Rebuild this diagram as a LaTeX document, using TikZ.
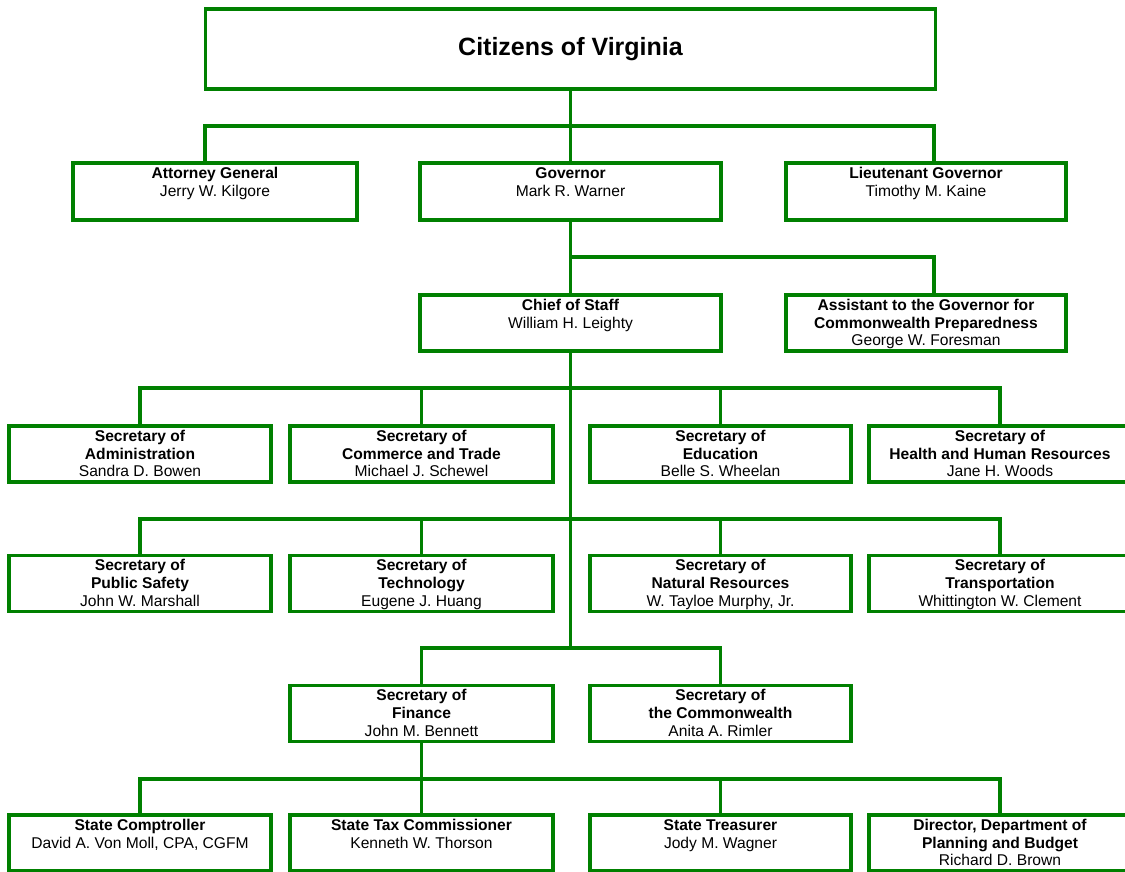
\documentclass[tikz,border=0pt]{standalone}
\usepackage{fontspec}
\setmainfont{Liberation Sans}
\definecolor{vgreen}{RGB}{0,128,0}
\tikzset{
  box/.style={draw=vgreen, line width=3.6pt, rectangle, inner sep=0pt, align=center,
    font=\fontsize{15.6}{17.7}\selectfont, text=black},
  conn/.style={draw=vgreen, line width=3.6pt},
}
\newcommand{\tstrut}{\rule{0pt}{15.6pt}}
\newcommand{\bx}[3]{\textbf{\tstrut #1}\\#2\\#3\strut}
\begin{document}
\begin{tikzpicture}[x=1pt,y=-1pt]
\useasboundingbox (0,0) rectangle (1125,872);
\clip (0,0) rectangle (1125,872);
% title
\node[box, minimum width=730, minimum height=80, font=\fontsize{25}{30}\selectfont\bfseries] (cit) at (570.5,49) {Citizens of Virginia};
% row 1
\node[box, minimum width=284, minimum height=57] (att) at (215,191.5) {\bx{Attorney General}{Jerry W. Kilgore}{}};
\node[box, minimum width=301, minimum height=57] (gov) at (570.5,191.5) {\bx{Governor}{Mark R. Warner}{}};
\node[box, minimum width=280, minimum height=57] (ltg) at (926,191.5) {\bx{Lieutenant Governor}{Timothy M. Kaine}{}};
% row 2
\node[box, minimum width=301, minimum height=56] (cos) at (570.5,323) {\bx{Chief of Staff}{William H. Leighty}{}};
\node[box, minimum width=280, minimum height=56] (asst) at (926,323) {\textbf{\tstrut Assistant to the Governor for}\\\textbf{Commonwealth Preparedness}\\George W. Foresman\strut};
% row 3
\node[box, minimum width=262, minimum height=56] (adm) at (140,454) {\textbf{\tstrut Secretary of}\\\textbf{Administration}\\Sandra D. Bowen\strut};
\node[box, minimum width=263, minimum height=56] (com) at (421.5,454) {\textbf{\tstrut Secretary of}\\\textbf{Commerce and Trade}\\Michael J. Schewel\strut};
\node[box, minimum width=261, minimum height=56] (edu) at (720.5,454) {\textbf{\tstrut Secretary of}\\\textbf{Education}\\Belle S. Wheelan\strut};
\node[box, minimum width=262, minimum height=56] (hhr) at (1000,454) {\textbf{\tstrut Secretary of}\\\textbf{Health and Human Resources}\\Jane H. Woods\strut};
% row 4
\node[box, minimum width=262, minimum height=53] (pub) at (140,583.5) {\textbf{\tstrut Secretary of}\\\textbf{Public Safety}\\John W. Marshall\strut};
\node[box, minimum width=263, minimum height=53] (tec) at (421.5,583.5) {\textbf{\tstrut Secretary of}\\\textbf{Technology}\\Eugene J. Huang\strut};
\node[box, minimum width=261, minimum height=53] (nat) at (720.5,583.5) {\textbf{\tstrut Secretary of}\\\textbf{Natural Resources}\\W. Tayloe Murphy, Jr.\strut};
\node[box, minimum width=262, minimum height=53] (tra) at (1000,583.5) {\textbf{\tstrut Secretary of}\\\textbf{Transportation}\\Whittington W. Clement\strut};
% row 5
\node[box, minimum width=263, minimum height=55] (fin) at (421.5,713.5) {\textbf{\tstrut Secretary of}\\\textbf{Finance}\\John M. Bennett\strut};
\node[box, minimum width=261, minimum height=55] (cmw) at (720.5,713.5) {\textbf{\tstrut Secretary of}\\\textbf{the Commonwealth}\\Anita A. Rimler\strut};
% row 6
\node[box, minimum width=262, minimum height=54] (sc) at (140,843) {\bx{State Comptroller}{David A. Von Moll, CPA, CGFM}{}};
\node[box, minimum width=263, minimum height=54] (stc) at (421.5,843) {\bx{State Tax Commissioner}{Kenneth W. Thorson}{}};
\node[box, minimum width=261, minimum height=54] (st) at (720.5,843) {\bx{State Treasurer}{Jody M. Wagner}{}};
\node[box, minimum width=262, minimum height=54] (dir) at (1000,843) {\textbf{\tstrut Director, Department of}\\\textbf{Planning and Budget}\\Richard D. Brown\strut};
% bus coordinates
\coordinate (b1l) at (205,126);
\coordinate (b1r) at (934,126);
\coordinate (b2r) at (934,257);
\coordinate (b3) at (570.5,388);
\coordinate (b4) at (570.5,519);
\coordinate (b5) at (570.5,648);
\coordinate (b6) at (421.5,779);
% connectors
\draw[conn] (cit.south) -- (gov.north);
\draw[conn] (b1l |- att.north) -- (b1l) -- (b1r) -- (b1r |- ltg.north);
\draw[conn] (gov.south) -- (cos.north);
\draw[conn] (gov.south |- b2r) -- (b2r) -- (b2r |- asst.north);
\draw[conn] (cos.south) -- (b5);
\draw[conn] (adm.north) -- (adm.north |- b3) -- (hhr.north |- b3) -- (hhr.north);
\draw[conn] (com.north) -- (com.north |- b3);
\draw[conn] (edu.north) -- (edu.north |- b3);
\draw[conn] (pub.north) -- (pub.north |- b4) -- (tra.north |- b4) -- (tra.north);
\draw[conn] (tec.north) -- (tec.north |- b4);
\draw[conn] (nat.north) -- (nat.north |- b4);
\draw[conn] (fin.north) -- (fin.north |- b5) -- (cmw.north |- b5) -- (cmw.north);
\draw[conn] (fin.south) -- (stc.north);
\draw[conn] (sc.north) -- (sc.north |- b6) -- (dir.north |- b6) -- (dir.north);
\draw[conn] (st.north) -- (st.north |- b6);
\end{tikzpicture}
\end{document}
